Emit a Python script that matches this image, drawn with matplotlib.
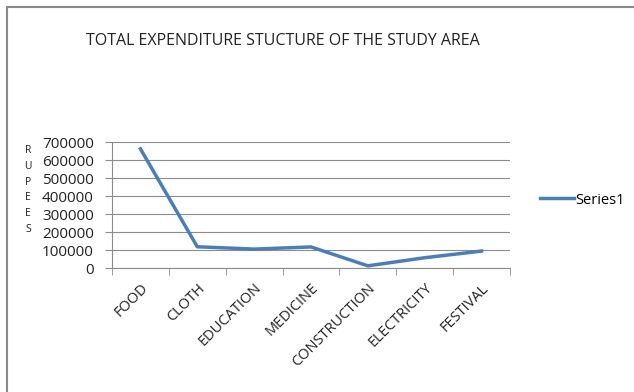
import matplotlib.pyplot as plt
from matplotlib.patches import Rectangle
from matplotlib.ticker import FixedLocator, NullFormatter

# Expenditure by category (rupees)
categories = ['FOOD', 'CLOTH', 'EDUCATION', 'MEDICINE', 'CONSTRUCTION', 'ELECTRICITY', 'FESTIVAL']
expenditure = [662000, 118000, 105000, 117000, 12000, 57000, 94000]
y_ticks = [0, 100000, 200000, 300000, 400000, 500000, 600000, 700000]

plt.rcParams['font.family'] = ['Open Sans', 'DejaVu Sans']

fig = plt.figure(figsize=(6.34, 3.92), dpi=100)
W, H = 634, 392
ax = fig.add_axes([112 / W, 1 - 268 / H, 398 / W, 126 / H])

x = list(range(len(categories)))
line, = ax.plot(x, expenditure, color='#4A7EBB', linewidth=2.5, label='Series1')

ax.set_xlim(-0.5, len(categories) - 0.5)
ax.set_ylim(0, 700000)
ax.set_yticks(y_ticks)
ax.set_yticklabels([str(v) for v in y_ticks], fontsize=11, color='#222222')
ax.grid(axis='y', color='#8c8c8c', linewidth=0.8)
ax.set_axisbelow(True)

# category labels at centres, tick marks at boundaries (Excel style)
ax.set_xticks(x)
ax.set_xticklabels(categories, rotation=45, ha='right', va='top',
                   rotation_mode='anchor', fontsize=10.5, color='#222222')
ax.tick_params(axis='x', length=0, pad=9)
ax.xaxis.set_minor_locator(FixedLocator([i - 0.5 for i in range(len(categories) + 1)]))
ax.xaxis.set_minor_formatter(NullFormatter())
ax.tick_params(axis='x', which='minor', length=5, color='#8c8c8c')
ax.tick_params(axis='y', length=5, color='#8c8c8c', pad=8)

for s in ['top', 'right']:
    ax.spines[s].set_visible(False)
ax.spines['left'].set_color('#8c8c8c')
ax.spines['bottom'].set_color('#8c8c8c')

fig.text(283 / W, 1 - 41 / H, 'TOTAL EXPENDITURE STUCTURE OF THE STUDY AREA',
         ha='center', va='center', fontsize=11.5, color='#222222')
fig.text(28 / W, 1 - 190 / H, '\n'.join('RUPEES'), ha='center', va='center',
         fontsize=7.5, color='#222222', linespacing=1.6)

fig.legend(handles=[line], loc='center left', bbox_to_anchor=(540 / W, 1 - 200 / H),
           frameon=False, fontsize=10.5, handlelength=2.3, handletextpad=0.1,
           borderpad=0, borderaxespad=0)

# chart border (only the top and left edges fall inside the image)
fig.patches.append(Rectangle((7 / W, -10 / H), 640 / W, 395 / H, transform=fig.transFigure,
                             fill=False, edgecolor='#8a8a8a', linewidth=1.5))

fig.savefig('out.png', dpi=100)
